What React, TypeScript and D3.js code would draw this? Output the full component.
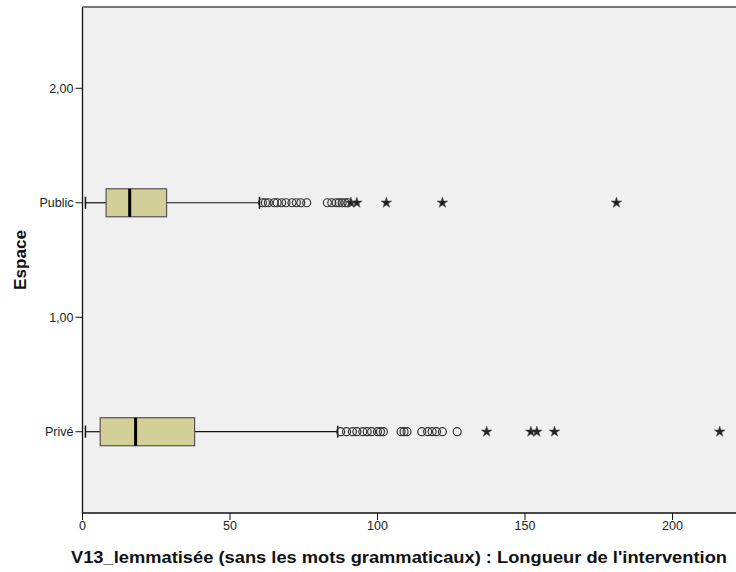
import React from "react";
import * as d3 from "d3";

const categories = ["2,00", "Public", "1,00", "Privé"];
const boxGroups = ["Public", "Privé"];
const whiskerLow = [1, 1];
const q1 = [8, 6];
const median = [16, 18];
const q3 = [28.5, 38];
const whiskerHigh = [60, 86.5];
const publicOutliers = [61, 62, 63, 65, 66, 67.5, 69, 71, 72.5, 74, 76, 83, 84.5, 86, 87, 88, 89, 90];
const publicExtremes = [91, 93, 103, 122, 181];
const priveOutliers = [87.5, 89.5, 91.5, 93, 95, 96.5, 98, 100, 101, 102, 108, 109, 110, 115, 117, 118.5, 120, 122, 127];
const priveExtremes = [137, 152, 154, 160, 216];
const xTicks = [0, 50, 100, 150, 200];

const W = 736;
const H = 572;
const left = 82.5;
const top = 7;
const bottom = 513;

export default function App() {
  const x = d3.scaleLinear().domain([0, 225]).range([left, left + 225 * 2.95]);
  const y = d3.scalePoint<string>().domain(categories).range([top, bottom]).padding(0.71);
  const outliers = [publicOutliers, priveOutliers];
  const extremes = [publicExtremes, priveExtremes];
  const star = d3.symbol().type(d3.symbolStar).size(36)() as string;
  const boxH = 28;
  const capH = 12;
  return (
    <svg width={W} height={H} style={{ position: "absolute", left: 0, top: 0, fontFamily: "Arial, 'Liberation Sans', sans-serif" }}>
      <rect x={left} y={top} width={W - left + 10} height={bottom - top} fill="#f0f0f0" />
      <line x1={left} x2={W} y1={top} y2={top} stroke="#777" strokeWidth={2} />
      {boxGroups.map((g, i) => {
        const cy = y(g)!;
        return (
          <g key={g}>
            <line x1={x(whiskerLow[i])} x2={x(q1[i])} y1={cy} y2={cy} stroke="#111" strokeWidth={1.2} />
            <line x1={x(q3[i])} x2={x(whiskerHigh[i])} y1={cy} y2={cy} stroke="#111" strokeWidth={1.2} />
            <line x1={x(whiskerLow[i])} x2={x(whiskerLow[i])} y1={cy - capH / 2} y2={cy + capH / 2} stroke="#111" strokeWidth={1.5} />
            <line x1={x(whiskerHigh[i])} x2={x(whiskerHigh[i])} y1={cy - capH / 2} y2={cy + capH / 2} stroke="#111" strokeWidth={1.5} />
            <rect x={x(q1[i])} y={cy - boxH / 2} width={x(q3[i]) - x(q1[i])} height={boxH} fill="#d3cf98" stroke="#555" strokeWidth={1.2} />
            <line x1={x(median[i])} x2={x(median[i])} y1={cy - boxH / 2} y2={cy + boxH / 2} stroke="#000" strokeWidth={3} />
            {outliers[i].map((v, k) => (
              <circle key={"o" + k} cx={x(v)} cy={cy} r={4} fill="none" stroke="#333" strokeWidth={1.2} />
            ))}
            {extremes[i].map((v, k) => (
              <path key={"e" + k} d={star} transform={`translate(${x(v)},${cy})`} fill="#222" stroke="#555" strokeWidth={0.5} />
            ))}
          </g>
        );
      })}
      <line x1={left} x2={left} y1={top} y2={bottom} stroke="#111" strokeWidth={1.3} />
      <line x1={left} x2={W} y1={bottom} y2={bottom} stroke="#111" strokeWidth={1.3} />
      {categories.map((c) => (
        <g key={c}>
          <line x1={left - 7} x2={left} y1={y(c)!} y2={y(c)!} stroke="#111" strokeWidth={1} />
          <text x={left - 9} y={y(c)!} dy="0.35em" textAnchor="end" fontSize={12.5} fill="#222">{c}</text>
        </g>
      ))}
      {xTicks.map((t) => (
        <g key={t}>
          <line x1={x(t)} x2={x(t)} y1={bottom} y2={bottom + 7} stroke="#111" strokeWidth={1} />
          <text x={x(t)} y={bottom + 17} textAnchor="middle" fontSize={12.5} fill="#222">{t}</text>
        </g>
      ))}
      <text x={399} y={563} textAnchor="middle" fontSize={16.5} fontWeight="bold" fill="#111" textLength={656} lengthAdjust="spacingAndGlyphs">
        V13_lemmatisée (sans les mots grammaticaux) : Longueur de l'intervention
      </text>
      <text transform={`translate(26,${260}) rotate(-90)`} textAnchor="middle" fontSize={16} fontWeight="bold" fill="#111" textLength={60} lengthAdjust="spacingAndGlyphs">
        Espace
      </text>
    </svg>
  );
}
